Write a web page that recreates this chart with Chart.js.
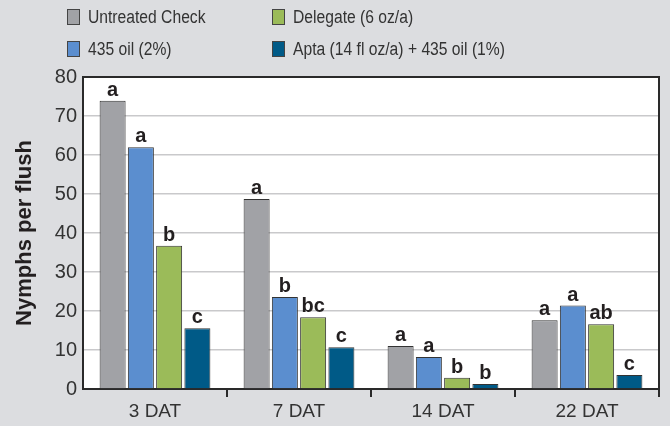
<!DOCTYPE html>
<html>
<head>
<meta charset="utf-8">
<script src="https://cdn.jsdelivr.net/npm/chart.js@4/dist/chart.umd.min.js"></script>
<style>
  html, body { margin: 0; padding: 0; background: #dcdde0; }
  #wrap { position: relative; width: 670px; height: 426px; }
  #legend { position: absolute; left: 0; top: 0; width: 670px; height: 70px; }
  .item { position: absolute; display: flex; align-items: center; height: 18px;
          font-family: "Liberation Sans", sans-serif; font-size: 18px; color: #333; white-space: nowrap; }
  .box { width: 13px; height: 16px; border: 1px solid #444; margin-right: 8px; box-sizing: border-box; flex: none; }
  .txt { display: inline-block; transform: scaleX(0.87); transform-origin: left center; }
</style>
</head>
<body>
<div id="wrap">
  <canvas id="nymphChart"></canvas>
  <div id="legend"></div>
</div>
<script>
const timings = ['3 DAT', '7 DAT', '14 DAT', '22 DAT'];
const seriesNames = ['Untreated Check', '435 oil (2%)', 'Delegate (6 oz/a)', 'Apta (14 fl oz/a) + 435 oil (1%)'];
const seriesColors = ['#a1a2a6', '#5b8ecf', '#9bbb59', '#005a87'];

const untreated = [73.9, 48.7, 11.0, 17.6];
const oil435 = [62.0, 23.6, 8.2, 21.4];
const delegate = [36.7, 18.4, 2.9, 16.6];
const apta = [15.6, 10.7, 1.3, 3.6];

const untreatedLetters = ['a', 'a', 'a', 'a'];
const oil435Letters = ['a', 'b', 'a', 'a'];
const delegateLetters = ['b', 'bc', 'b', 'ab'];
const aptaLetters = ['c', 'c', 'b', 'c'];

const yTicks = [0, 10, 20, 30, 40, 50, 60, 70, 80];

const allValues = [untreated, oil435, delegate, apta];
const allLetters = [untreatedLetters, oil435Letters, delegateLetters, aptaLetters];

// legend, 2 columns: col 1 = series 0,1 ; col 2 = series 2,3
const legendPos = [[67, 8], [67, 40], [272, 8], [272, 40]];
const legendEl = document.getElementById('legend');
seriesNames.forEach((name, i) => {
    const div = document.createElement('div');
    div.className = 'item';
    div.style.left = legendPos[i][0] + 'px';
    div.style.top = legendPos[i][1] + 'px';
    div.innerHTML = '<span class="box" style="background:' + seriesColors[i] + '"></span><span class="txt">' + name + '</span>';
    legendEl.appendChild(div);
});

const plotFrame = {
    id: 'plotFrame',
    beforeDraw(chart) {
        const { ctx, chartArea: a } = chart;
        ctx.save();
        ctx.fillStyle = '#ffffff';
        ctx.fillRect(a.left, a.top, a.right - a.left, a.bottom - a.top);
        ctx.restore();
    },
    afterDraw(chart) {
        const { ctx, chartArea: a } = chart;
        ctx.save();
        ctx.strokeStyle = '#2a2a2a';
        ctx.lineWidth = 2;
        ctx.beginPath();
        ctx.moveTo(a.left, a.top);
        ctx.lineTo(a.right, a.top);
        ctx.lineTo(a.right, a.bottom);
        ctx.stroke();
        ctx.restore();
    }
};

const letterLabels = {
    id: 'letterLabels',
    afterDatasetsDraw(chart) {
        const ctx = chart.ctx;
        ctx.save();
        ctx.font = 'bold 20px "Liberation Sans", sans-serif';
        ctx.fillStyle = '#231f20';
        ctx.textAlign = 'center';
        ctx.textBaseline = 'alphabetic';
        chart.data.datasets.forEach((ds, di) => {
            chart.getDatasetMeta(di).data.forEach((bar, i) => {
                ctx.fillText(allLetters[di][i], bar.x, bar.y - 5);
            });
        });
        ctx.restore();
    }
};

new Chart(document.getElementById('nymphChart'), {
    type: 'bar',
    data: {
        labels: timings,
        datasets: allValues.map((vals, i) => ({
            label: seriesNames[i],
            data: vals,
            backgroundColor: seriesColors[i],
            borderColor: '#333',
            borderWidth: 1,
            categoryPercentage: 0.785,
            barPercentage: 0.92
        }))
    },
    options: {
        responsive: true,
        maintainAspectRatio: false,
        animation: false,
        layout: { padding: { top: 77, right: 11, left: 0, bottom: 0 } },
        plugins: {
            legend: { display: false },
            tooltip: { enabled: false }
        },
        scales: {
            x: {
                grid: {
                    drawOnChartArea: false,
                    tickLength: 8,
                    lineWidth: 2,
                    color: ctx => ctx.index === 0 ? 'rgba(0,0,0,0)' : '#2a2a2a'
                },
                border: { color: '#2a2a2a', width: 2 },
                ticks: {
                    color: '#333',
                    padding: 3,
                    font: { family: '"Liberation Sans", sans-serif', size: 19 }
                },
                afterFit: scale => { scale.height = 37; }
            },
            y: {
                min: 0,
                max: 80,
                afterBuildTicks: scale => { scale.ticks = yTicks.map(v => ({ value: v })); },
                grid: { color: '#c9c9cb', lineWidth: 1.5, drawTicks: false },
                border: { color: '#2a2a2a', width: 2 },
                ticks: {
                    color: '#333',
                    padding: 6,
                    font: { family: '"Liberation Sans", sans-serif', size: 20 }
                },
                title: {
                    display: true,
                    text: 'Nymphs per flush',
                    color: '#231f20',
                    padding: { top: 12, bottom: 0 },
                    font: { family: '"Liberation Sans", sans-serif', size: 22, weight: 'bold' }
                },
                afterFit: scale => { scale.width = 83; }
            }
        }
    },
    plugins: [plotFrame, letterLabels]
});
</script>
</body>
</html>
